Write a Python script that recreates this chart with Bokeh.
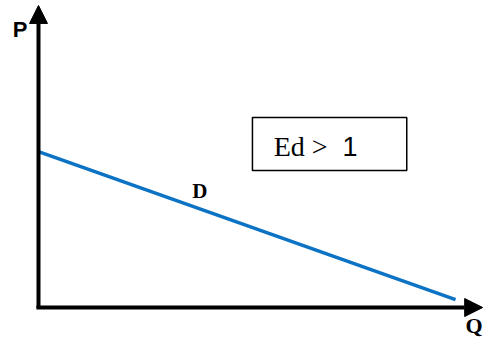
from bokeh.plotting import figure
from bokeh.models import Arrow, NormalHead, Label, BoxAnnotation, Range1d
from bokeh.embed import file_html
from bokeh.resources import INLINE

# Data (economic units)
quantity = [0, 10]          # Q values of demand curve end points
price = [6.0, 0.3]          # P values of demand curve end points
curve_label = "D"
y_axis_label = "P"
x_axis_label = "Q"
elasticity_lhs = "Ed >"
elasticity_rhs = "1"

p = figure(width=483, height=337, output_backend="svg", toolbar_location=None,
           x_range=Range1d(-0.911, 10.67), y_range=Range1d(-1.154, 11.81),
           min_border=0, x_axis_type=None, y_axis_type=None)
p.grid.visible = False
p.outline_line_color = None
p.background_fill_color = "white"
p.border_fill_color = "white"

# Demand line
p.line(quantity, price, line_color="#0B72C4", line_width=3.5)

# Axes with arrows
p.add_layout(Arrow(end=NormalHead(size=18, fill_color="black", line_color="black"),
                   x_start=0, y_start=-0.02, x_end=0, y_end=11.62,
                   line_color="black", line_width=4))
p.add_layout(Arrow(end=NormalHead(size=18, fill_color="black", line_color="black"),
                   x_start=-0.05, y_start=0, x_end=10.65, y_end=0,
                   line_color="black", line_width=4))

# Axis labels
p.add_layout(Label(x=-0.62, y=10.69, text=y_axis_label, text_font="Liberation Sans",
                   text_font_style="bold", text_font_size="22px", text_color="black",
                   text_align="left", text_baseline="alphabetic"))
p.add_layout(Label(x=10.24, y=-0.69, text=x_axis_label, text_font="Liberation Serif",
                   text_font_style="bold", text_font_size="22px", text_color="black",
                   text_align="left", text_baseline="alphabetic"))

# Curve label
p.add_layout(Label(x=3.87, y=4.5, text=curve_label, text_font="Liberation Serif",
                   text_font_style="bold", text_font_size="21px", text_color="black",
                   text_align="center", text_baseline="alphabetic"))

# Elasticity box
p.add_layout(BoxAnnotation(left=5.13, right=8.83, bottom=5.27, top=7.31,
                           fill_alpha=0, line_color="black", line_alpha=1.0,
                           line_width=1.5))
p.add_layout(Label(x=5.64, y=6.19, text=elasticity_lhs, text_font="Liberation Serif",
                   text_font_size="28px", text_color="black",
                   text_align="left", text_baseline="alphabetic"))
p.add_layout(Label(x=7.29, y=6.19, text=elasticity_rhs, text_font="Liberation Sans",
                   text_font_size="27px", text_color="black",
                   text_align="left", text_baseline="alphabetic"))

open("out.html", "w").write(file_html(p, INLINE))
